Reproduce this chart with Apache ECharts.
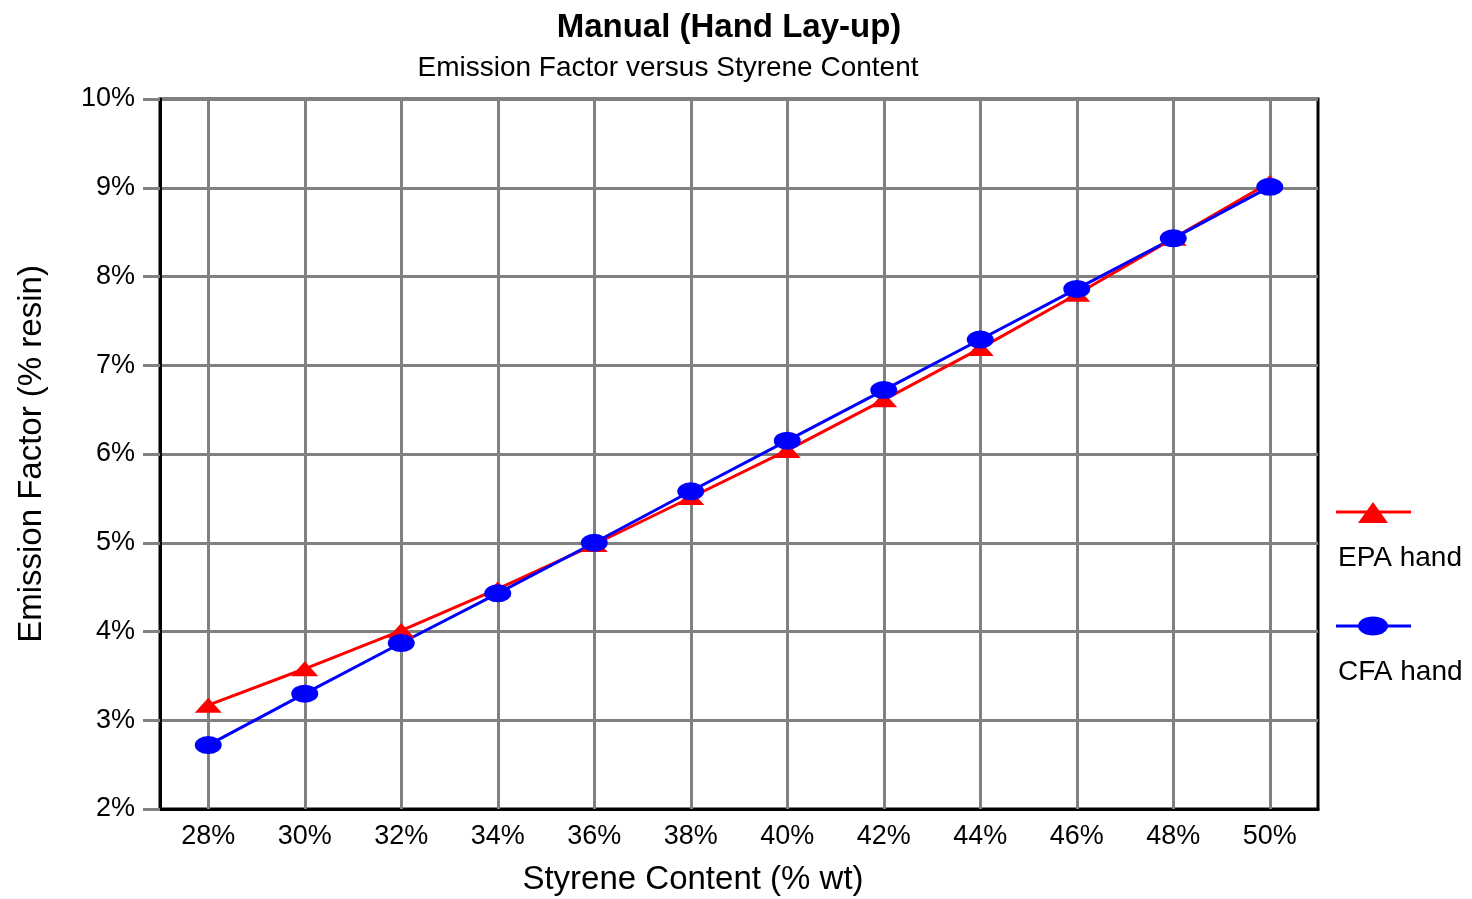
<!DOCTYPE html>
<html>
<head>
<meta charset="utf-8">
<script src="https://cdn.jsdelivr.net/npm/echarts@6/dist/echarts.min.js"></script>
<style>
  html, body { margin: 0; padding: 0; background: #fff; }
  #chart { width: 1472px; height: 899px; }
</style>
</head>
<body>
<div id="chart"></div>
<script>
// styrene content categories
var categories = ['28%', '30%', '32%', '34%', '36%', '38%', '40%', '42%', '44%', '46%', '48%', '50%'];
// emission factor (% resin)
var epaHand = [3.17, 3.58, 4.01, 4.48, 4.98, 5.51, 6.04, 6.61, 7.19, 7.80, 8.43, 9.06];
var cfaHand = [2.72, 3.30, 3.87, 4.43, 5.00, 5.58, 6.15, 6.72, 7.29, 7.86, 8.43, 9.01];

var font = 'Liberation Sans, Arial, sans-serif';
var gray = '#808080';
var chart = echarts.init(document.getElementById('chart'));

var option = {
  animation: false,
  title: [{
    text: 'Manual (Hand Lay-up)',
    left: 724, top: 6, textAlign: 'center',
    textStyle: { fontFamily: font, fontSize: 33, fontWeight: 'bold', color: '#000' }
  }, {
    text: 'Emission Factor versus Styrene Content',
    left: 663, top: 49, textAlign: 'center',
    textStyle: { fontFamily: font, fontSize: 28, fontWeight: 'normal', color: '#000' }
  }],
  grid: {
    left: 160, right: 154, top: 99, bottom: 90,
    outerBoundsMode: 'none',
    containLabel: false,
    show: true, borderColor: '#000', borderWidth: 3, backgroundColor: 'transparent'
  },
  xAxis: {
    type: 'category',
    data: categories,
    boundaryGap: true,
    name: 'Styrene Content (% wt)',
    nameLocation: 'middle',
    nameGap: 54,
    nameTextStyle: { fontFamily: font, fontSize: 33, color: '#000', padding: [0, 92, 0, 0] },
    axisLine: { lineStyle: { color: '#000', width: 3 } },
    axisTick: { alignWithLabel: true, length: 13, lineStyle: { color: gray, width: 3 } },
    axisLabel: { fontFamily: font, fontSize: 27, color: '#000', margin: 14 },
    splitLine: { show: false }
  },
  yAxis: {
    type: 'value',
    min: 2, max: 10, interval: 1,
    name: 'Emission Factor (% resin)',
    nameLocation: 'middle',
    nameGap: 112,
    nameTextStyle: { fontFamily: font, fontSize: 33, color: '#000' },
    axisLine: { show: true, lineStyle: { color: '#000', width: 3 } },
    axisTick: { show: true, length: 17, lineStyle: { color: gray, width: 3 } },
    axisLabel: { fontFamily: font, fontSize: 27, color: '#000', margin: 25, formatter: '{value}%' },
    splitLine: { show: true, lineStyle: { color: gray, width: 3 } }
  },
  series: [{
    name: 'EPA hand',
    type: 'line',
    data: epaHand,
    symbol: 'triangle',
    symbolSize: [27, 15],
    lineStyle: { color: '#ff0000', width: 3 },
    itemStyle: { color: '#ff0000' },
    // vertical grid lines through each category
    markLine: {
      z: 1,
      silent: true,
      symbol: 'none',
      label: { show: false },
      lineStyle: { color: gray, width: 3, type: 'solid' },
      data: categories.map(function (c) { return { xAxis: c }; })
    }
  }, {
    name: 'CFA hand',
    type: 'line',
    data: cfaHand,
    symbol: 'circle',
    symbolSize: [27, 18],
    lineStyle: { color: '#0000ff', width: 3 },
    itemStyle: { color: '#0000ff' }
  }],
  graphic: [
    { type: 'line', shape: { x1: 1336, y1: 512, x2: 1411, y2: 512 }, style: { stroke: '#ff0000', lineWidth: 3 } },
    { type: 'polygon', shape: { points: [[1373, 502], [1358, 523], [1388, 523]] }, style: { fill: '#ff0000' } },
    { type: 'text', left: 1338, top: 544, style: { text: 'EPA hand', font: '28px ' + font, fill: '#000' } },
    { type: 'line', shape: { x1: 1336, y1: 626, x2: 1411, y2: 626 }, style: { stroke: '#0000ff', lineWidth: 3 } },
    { type: 'ellipse', shape: { cx: 1373, cy: 626, rx: 15, ry: 9.5 }, style: { fill: '#0000ff' } },
    { type: 'text', left: 1338, top: 658, style: { text: 'CFA hand', font: '28px ' + font, fill: '#000' } }
  ]
};

chart.setOption(option);
</script>
</body>
</html>
